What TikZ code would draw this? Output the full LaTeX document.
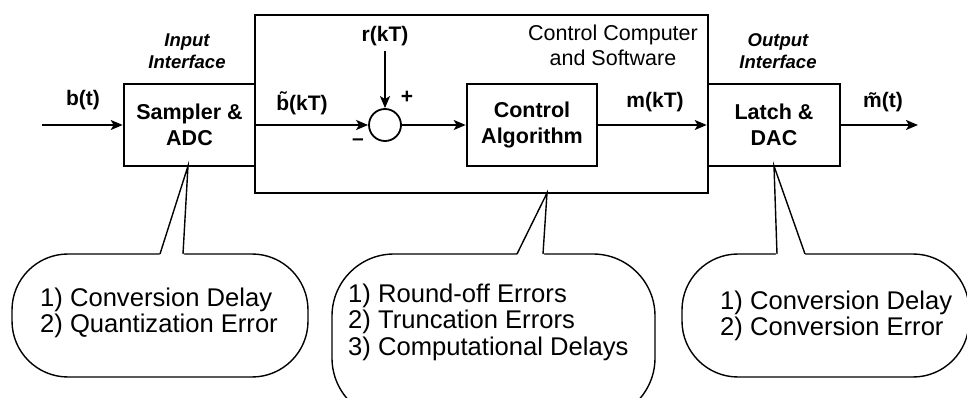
\documentclass[tikz,border=0pt]{standalone}
\usepackage{fontspec}
\setmainfont{Liberation Sans}
\usetikzlibrary{arrows.meta}
\begin{document}
\begin{tikzpicture}[x=1pt,y=-1pt,
  blk/.style={draw, line width=2.6pt, inner sep=0pt, align=center,
    font=\bfseries\fontsize{21.5}{25.5}\selectfont},
  lbl/.style={inner sep=0pt, font=\bfseries\fontsize{21}{24}\selectfont},
  ital/.style={inner sep=0pt, align=center, font=\bfseries\itshape\fontsize{18.5}{22}\selectfont},
  arr/.style={line width=1.8pt, -{Stealth[length=12pt,width=10pt,inset=3pt]}},
  callout/.style={line width=1.4pt, fill=white},
  ptr/.style={line width=1.4pt},
  ctext/.style={inner sep=0pt, align=left, anchor=west, font=\fontsize{25.6}{26.5}\selectfont}]
\useasboundingbox (0,0) rectangle (967,398);
\clip (0,0) rectangle (967,398);
% boxes
\node[draw, line width=2.6pt, minimum width=453pt, minimum height=178pt, inner sep=0pt] (comp) at (481.5,104) {};
\node[blk, minimum width=131pt, minimum height=82pt] (samp) at (189.5,125) {Sampler \&\\ADC};
\node[blk, minimum width=130pt, minimum height=82pt] (alg) at (532,125) {Control\\Algorithm};
\node[blk, minimum width=132pt, minimum height=82pt] (latch) at (774,125) {Latch \&\\DAC};
\node[draw, circle, line width=1.8pt, minimum size=32pt, inner sep=0pt] (sum) at (385,125) {};
% labels
\node[ital] (inif) at (187,51) {Input\\Interface};
\node[ital] (outif) at (778,51) {Output\\Interface};
\node[inner sep=0pt, align=center, font=\fontsize{21.5}{25}\selectfont] (cc) at (613,45) {Control Computer\\and Software};
\node[lbl] (bt) at (83,100) {b(t)};
\node[lbl] (bkt) at (302,103) {\~{b}(kT)};
\node[lbl] (rkt) at (385,36) {r(kT)};
\node[lbl] (mkt) at (655,102) {m(kT)};
\node[lbl] (mt) at (883,102) {\~{m}(t)};
\node[lbl] (plus) at (407,97) {+};
\node[lbl] (minus) at (358,142) {\textendash};
% connectors
\coordinate (in) at (42,125);
\coordinate (out) at (918,125);
\draw[arr] (in) -- (samp.west);
\draw[arr] (samp.east) -- (sum.west);
\draw[arr] (rkt.south) ++(0,5) -- (sum.north);
\draw[arr] (sum.east) -- (alg.west);
\draw[arr] (alg.east) -- (latch.west);
\draw[arr] (latch.east) -- (out);
% callouts
\draw[callout, rounded corners=56pt] (12,254) rectangle (308,377);
\fill[white] (159,257) -- (188,166) -- (184,257) -- cycle;
\draw[ptr] (160,254) -- (188,166) -- (183,254);
\node[ctext] (c1) at (40,313) {1) Conversion Delay\\2) Quantization Error};

\draw[callout, rounded corners=62pt] (332,254) rectangle (655,420);
\fill[white] (516,257) -- (547,193) -- (544,257) -- cycle;
\draw[ptr] (517,254) -- (547,193) -- (543,254);
\node[ctext] (c2) at (348,322) {1) Round-off Errors\\2) Truncation Errors\\3) Computational Delays};

\draw[callout, rounded corners=56pt] (682,254) rectangle (969,377);
\fill[white] (776,257) -- (774,166) -- (806,257) -- cycle;
\draw[ptr] (777,254) -- (774,166) -- (805,254);
\node[ctext] (c3) at (720,316) {1) Conversion Delay\\2) Conversion Error};
\end{tikzpicture}
\end{document}
